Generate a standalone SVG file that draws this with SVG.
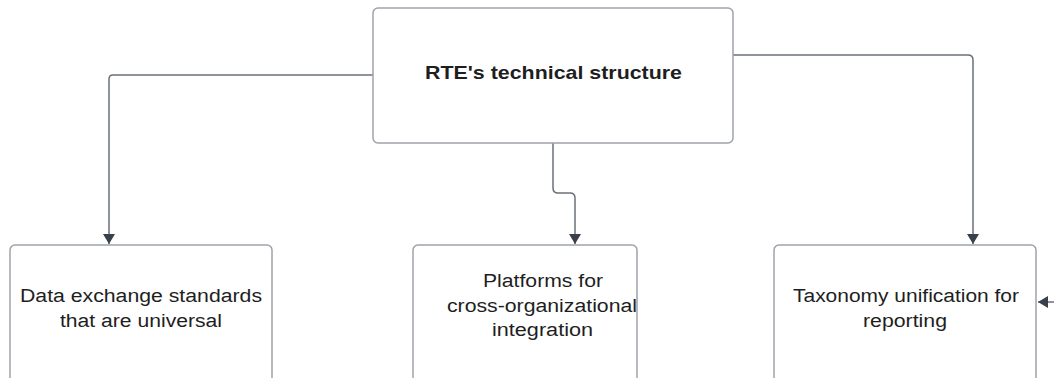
<svg xmlns="http://www.w3.org/2000/svg" width="1054" height="378" viewBox="0 0 1054 378">
<style>
.box{fill:#ffffff;stroke:#9ea2a9;stroke-width:1.5}
.conn{fill:none;stroke:#6b7079;stroke-width:1.5}
.t{font-family:"Liberation Sans",Arial,sans-serif;fill:#1e1e1e;text-anchor:middle}
.b{font-weight:bold;font-size:19px}
.n{font-size:18px}
</style>
<defs>
<marker id="ah" viewBox="0 0 10 12" refX="10" refY="6" markerWidth="10" markerHeight="12" markerUnits="userSpaceOnUse" orient="auto">
<path d="M0,0 L10,6 L0,12 Z" fill="#3a4049"/>
</marker>
</defs>
<rect width="1054" height="378" fill="#ffffff"/>
<g id="connectors">
<path class="conn" d="M373,75 H113 Q109,75 109,79 V244" marker-end="url(#ah)"/>
<path class="conn" d="M553,143 V188 Q553,193 558,193 H570 Q575,193 575,198 V244" marker-end="url(#ah)"/>
<path class="conn" d="M733,55 H968 Q973,55 973,60 V244" marker-end="url(#ah)"/>
<path class="conn" d="M1054,302 H1038" marker-end="url(#ah)"/>
</g>
<g id="root">
<rect class="box" x="373" y="8" width="360" height="135" rx="5"/>
<text class="t b" x="553.5" y="79" textLength="257" lengthAdjust="spacingAndGlyphs">RTE's technical structure</text>
</g>
<g id="data-exchange">
<rect class="box" x="10" y="245" width="262" height="150" rx="5"/>
<text class="t n" x="141" y="302" textLength="242" lengthAdjust="spacingAndGlyphs">Data exchange standards</text>
<text class="t n" x="141" y="327" textLength="162" lengthAdjust="spacingAndGlyphs">that are universal</text>
</g>
<g id="platforms">
<rect class="box" x="413" y="245" width="224" height="150" rx="5"/>
<text class="t n" x="543" y="287" textLength="120" lengthAdjust="spacingAndGlyphs">Platforms for</text>
<text class="t n" x="542" y="312" textLength="190" lengthAdjust="spacingAndGlyphs">cross-organizational</text>
<text class="t n" x="542.5" y="336" textLength="101" lengthAdjust="spacingAndGlyphs">integration</text>
</g>
<g id="taxonomy">
<rect class="box" x="774" y="245" width="262" height="150" rx="5"/>
<text class="t n" x="906" y="302" textLength="226" lengthAdjust="spacingAndGlyphs">Taxonomy unification for</text>
<text class="t n" x="905" y="327" textLength="84" lengthAdjust="spacingAndGlyphs">reporting</text>
</g>
</svg>
